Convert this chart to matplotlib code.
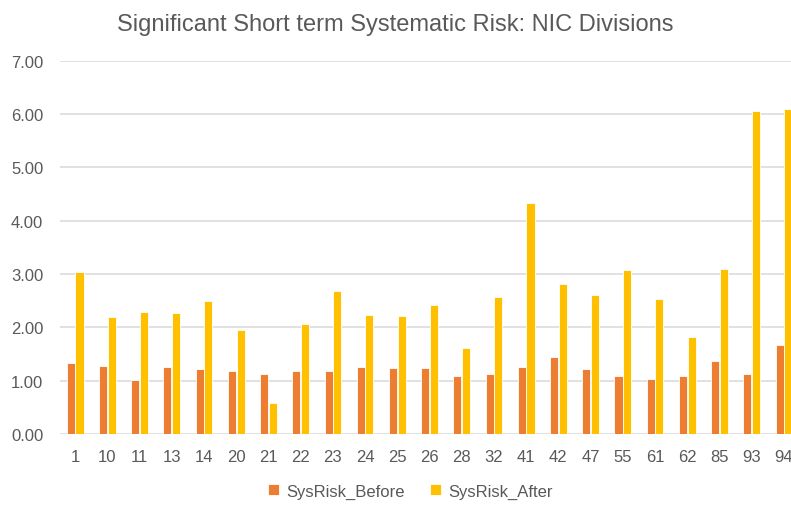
import matplotlib.pyplot as plt
import numpy as np

plt.rcParams['font.family'] = ['Liberation Sans', 'DejaVu Sans']

divisions = ["1", "10", "11", "13", "14", "20", "21", "22", "23", "24", "25", "26",
             "28", "32", "41", "42", "47", "55", "61", "62", "85", "93", "94"]
sysrisk_before = [1.34, 1.27, 1.02, 1.25, 1.22, 1.18, 1.13, 1.18, 1.18, 1.25, 1.24, 1.24,
                  1.09, 1.13, 1.26, 1.44, 1.22, 1.09, 1.04, 1.09, 1.36, 1.13, 1.66]
sysrisk_after = [3.03, 2.19, 2.28, 2.26, 2.49, 1.95, 0.59, 2.06, 2.69, 2.24, 2.22, 2.41,
                 1.61, 2.56, 4.33, 2.81, 2.60, 3.07, 2.53, 1.81, 3.10, 6.06, 6.09]

grey = "#595959"
fig = plt.figure(figsize=(7.91, 5.06), dpi=100)
ax = fig.add_axes([60 / 791, 1 - 435 / 506, 1 - 60 / 791, (435 - 61.7) / 506])

x = np.arange(len(divisions))
w = 0.25
ax.bar(x - 0.135, sysrisk_before, w, color="#ED7D31", edgecolor="white", linewidth=0.6,
       label="SysRisk_Before", zorder=3)
ax.bar(x + 0.135, sysrisk_after, w, color="#FFC000", edgecolor="white", linewidth=0.6,
       label="SysRisk_After", zorder=3)

ax.set_ylim(0, 7)
ax.set_xlim(-0.47, 22.22)
ax.set_yticks(np.arange(0, 8, 1))
ax.set_yticklabels([f"{v:.2f}" for v in range(8)])
ax.set_xticks(x)
ax.set_xticklabels(divisions)
ax.tick_params(length=0, labelsize=12, colors=grey)
ax.tick_params(axis='x', pad=11)
ax.tick_params(axis='y', pad=12)
ax.grid(axis='y', color="#D9D9D9", linewidth=1.1, zorder=0)
for s in ax.spines.values():
    s.set_visible(False)

fig.text(0.5, 1 - 25 / 506, "Significant Short term Systematic Risk: NIC Divisions",
         ha="center", va="center", fontsize=17, color=grey)
fig.legend(loc="center", bbox_to_anchor=(410 / 791, 1 - 492 / 506), ncol=2, frameon=False,
           fontsize=12, handlelength=0.7, handleheight=0.7, columnspacing=1.5,
           handletextpad=0.4, labelcolor=grey)

fig.savefig("out.png", dpi=100)
